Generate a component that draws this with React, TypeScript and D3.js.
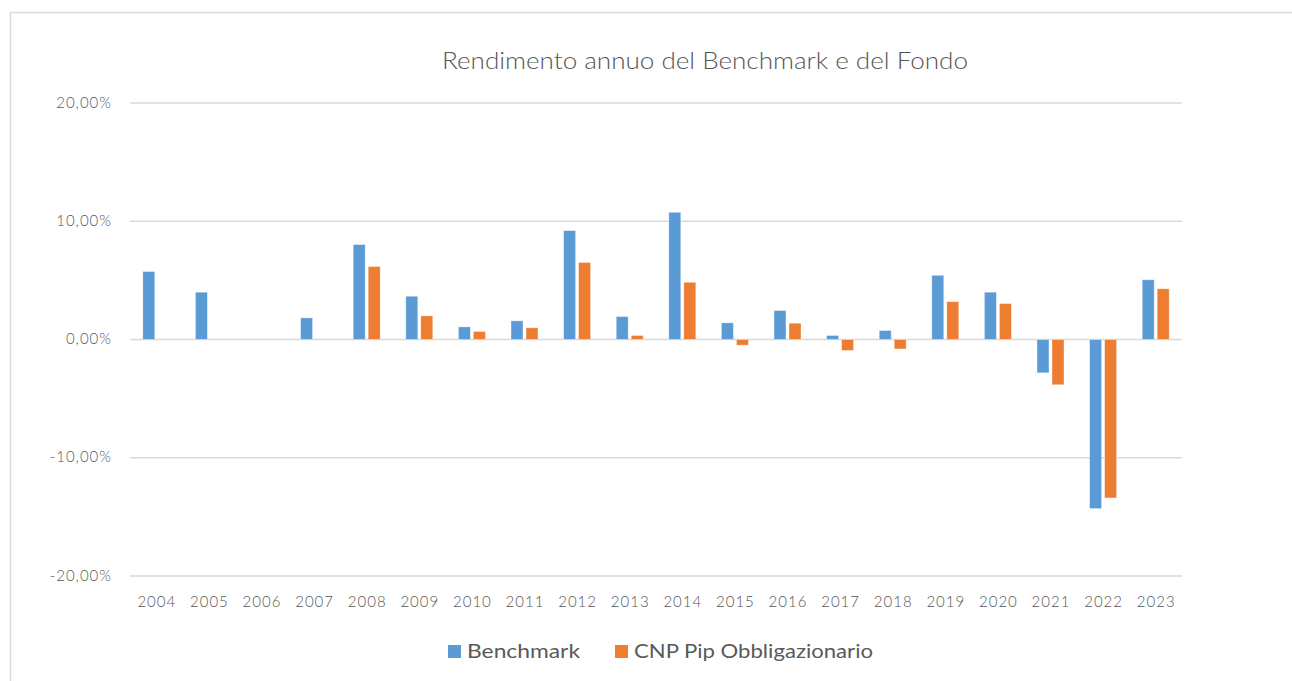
import React from "react";
import * as d3 from "d3";

const years = ["2004","2005","2006","2007","2008","2009","2010","2011","2012","2013","2014","2015","2016","2017","2018","2019","2020","2021","2022","2023"];
const benchmark: (number | null)[] = [5.75, 4.0, null, 1.83, 8.03, 3.66, 1.07, 1.58, 9.21, 1.94, 10.76, 1.41, 2.45, 0.34, 0.76, 5.43, 4.0, -2.82, -14.3, 5.05];
const fondo: (number | null)[] = [null, null, null, null, 6.17, 2.0, 0.68, 0.99, 6.51, 0.34, 4.84, -0.48, 1.38, -0.93, -0.8, 3.2, 3.04, -3.83, -13.4, 4.29];
const yTicks = [20, 10, 0, -10, -20];
const seriesNames = ["Benchmark", "CNP Pip Obbligazionario"];
const colors = ["#5B9BD5", "#ED7D31"];

const W = 1292, H = 681;
const plot = { left: 130, right: 1182, top: 103, bottom: 576 };
const FONT = "Lato, 'Open Sans', sans-serif";
const fmt = (v: number) => v.toFixed(2).replace(".", ",") + "%";

export default function App() {
  const x = d3.scaleBand<string>().domain(years).range([plot.left, plot.right]).paddingInner(0).paddingOuter(0);
  const y = d3.scaleLinear().domain([-20, 20]).range([plot.bottom, plot.top]);
  const step = x.bandwidth();
  const barW = 12;
  const gap = 3;
  const series = [benchmark, fondo];

  return (
    <svg width={W} height={H} style={{ position: "absolute", left: 0, top: 0, background: "#fff" }}>
      <rect x={10.5} y={12.5} width={1300} height={700} fill="#fff" stroke="#d9d9d9" strokeWidth={1.5} />
      <text x={442} y={63} dominantBaseline="middle" fontFamily={FONT} fontWeight={300} fontSize={23} fill="#555555"
        textLength={526} lengthAdjust="spacingAndGlyphs">
        Rendimento annuo del Benchmark e del Fondo
      </text>
      {yTicks.map((t) => (
        <g key={t}>
          <line x1={plot.left} x2={plot.right} y1={y(t)} y2={y(t)} stroke="#d9d9d9" strokeWidth={1.5} />
          <text x={112} y={y(t) + 1} textAnchor="end" dominantBaseline="middle" fontFamily={FONT} fontWeight={300} fontSize={15} letterSpacing={1} fill="#555555">
            {fmt(t)}
          </text>
        </g>
      ))}
      {series.map((vals, si) =>
        vals.map((v, i) => {
          if (v === null) return null;
          const cx = (x(years[i]) as number) + step / 2;
          const bx = si === 0 ? cx - gap / 2 - barW : cx + gap / 2;
          const y0 = y(0), y1 = y(v);
          return (
            <rect key={si + "-" + i} x={bx} y={Math.min(y0, y1)} width={barW} height={Math.abs(y1 - y0)}
              fill={colors[si]} stroke="#ffffff" strokeOpacity={0.5} strokeWidth={0.75} />
          );
        })
      )}
      {years.map((yr) => (
        <text key={yr} x={(x(yr) as number) + step / 2 + 0.5} y={603} textAnchor="middle" dominantBaseline="middle" fontFamily={FONT} fontWeight={300} fontSize={15} letterSpacing={1} fill="#555555">
          {yr}
        </text>
      ))}
      <g>
        <rect x={448} y={645} width={13} height={13} fill={colors[0]} />
        <text x={467} y={653} dominantBaseline="middle" fontFamily={FONT} fontWeight={400} fontSize={19} fill="#595959"
          textLength={113} lengthAdjust="spacingAndGlyphs">{seriesNames[0]}</text>
        <rect x={615} y={645} width={13} height={13} fill={colors[1]} />
        <text x={634} y={653} dominantBaseline="middle" fontFamily={FONT} fontWeight={400} fontSize={19} fill="#595959"
          textLength={239} lengthAdjust="spacingAndGlyphs">{seriesNames[1]}</text>
      </g>
    </svg>
  );
}
